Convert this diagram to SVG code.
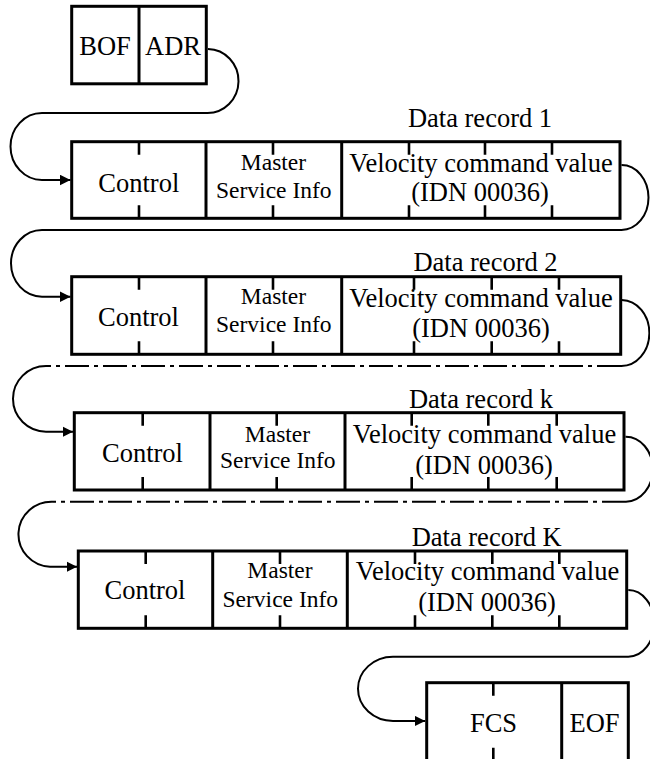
<svg xmlns="http://www.w3.org/2000/svg" width="650" height="759" viewBox="0 0 650 759">
  <style>
    .box { fill: #fff; stroke: #000; stroke-width: 3; }
    .sep { stroke: #000; stroke-width: 3; }
    .tick { stroke: #000; stroke-width: 2.6; }
    .wire { fill: none; stroke: #000; stroke-width: 2; }
    .dashdot { stroke-dasharray: 24 5 4 5; }
    .lbl { font-family: 'Liberation Serif', 'Times New Roman', serif; font-size: 26.5px; text-anchor: middle; fill: #000; }
    .small { font-size: 23.5px; }
  </style>
  <defs>
    <marker id="arrow" markerUnits="userSpaceOnUse" markerWidth="11" markerHeight="11" refX="10.5" refY="5.25" orient="auto">
      <path d="M0,0 L10.5,5.25 L0,10.5 z" fill="#000"/>
    </marker>
  </defs>
  <rect width="650" height="759" fill="#fff"/>

  <g class="lbl">
  <!-- frame start: BOF | ADR -->
  <g id="frame-start">
    <rect class="box" x="71.7" y="6.3" width="134.6" height="77.5"/>
    <line class="sep" x1="139" y1="6.3" x2="139" y2="83.8"/>
    <text x="105" y="55">BOF</text>
    <text x="173" y="55">ADR</text>
  </g>

  <!-- data record 1 -->
  <g id="record-1">
    <text x="480" y="126.7">Data record 1</text>
    <rect class="box" x="71.7" y="141.7" width="548.3" height="76.6"/>
    <line class="sep" x1="206" y1="141.7" x2="206" y2="218.3"/>
    <line class="sep" x1="341.7" y1="141.7" x2="341.7" y2="218.3"/>
    <path class="tick" d="M139,141.7v13M273,141.7v13M409,141.7v13M485,141.7v13M552,141.7v13M139,218.3v-13M273,218.3v-13M409,218.3v-13M485,218.3v-13M552,218.3v-13"/>
    <text x="138.8" y="191.7">Control</text>
    <text class="small" x="273.5" y="170">Master</text>
    <text class="small" x="273.8" y="198.3">Service Info</text>
    <text x="481" y="171.7">Velocity command value</text>
    <text x="480" y="200.5">(IDN 00036)</text>
  </g>

  <!-- data record 2 -->
  <g id="record-2">
    <text x="485.5" y="270.7">Data record 2</text>
    <rect class="box" x="71.7" y="276.7" width="549" height="77.6"/>
    <line class="sep" x1="206" y1="276.7" x2="206" y2="354.3"/>
    <line class="sep" x1="341.7" y1="276.7" x2="341.7" y2="354.3"/>
    <path class="tick" d="M139,276.7v13M273,276.7v13M414,276.7v13M491.7,276.7v13M559,276.7v13M139,354.3v-13M273,354.3v-13M414,354.3v-13M491.7,354.3v-13M559,354.3v-13"/>
    <text x="138.5" y="326">Control</text>
    <text class="small" x="273.5" y="304">Master</text>
    <text class="small" x="273.8" y="331.7">Service Info</text>
    <text x="481" y="306.7">Velocity command value</text>
    <text x="481" y="337">(IDN 00036)</text>
  </g>

  <!-- data record k -->
  <g id="record-k">
    <text x="481" y="408.3">Data record k</text>
    <rect class="box" x="74.3" y="412.7" width="549.7" height="77.3"/>
    <line class="sep" x1="210" y1="412.7" x2="210" y2="490"/>
    <line class="sep" x1="345" y1="412.7" x2="345" y2="490"/>
    <path class="tick" d="M142.7,412.7v13M276.7,412.7v13M411.7,412.7v13M488.3,412.7v13M556.7,412.7v13M142.7,490v-13M276.7,490v-13M411.7,490v-13M488.3,490v-13M556.7,490v-13"/>
    <text x="142.5" y="461.7">Control</text>
    <text class="small" x="277.5" y="441.7">Master</text>
    <text class="small" x="277.8" y="468.3">Service Info</text>
    <text x="484.5" y="443.3">Velocity command value</text>
    <text x="484" y="474">(IDN 00036)</text>
  </g>

  <!-- data record K -->
  <g id="record-K">
    <text x="486.7" y="545.7">Data record K</text>
    <rect class="box" x="78.3" y="551" width="548.4" height="77.3"/>
    <line class="sep" x1="212.7" y1="551" x2="212.7" y2="628.3"/>
    <line class="sep" x1="347.3" y1="551" x2="347.3" y2="628.3"/>
    <path class="tick" d="M145.7,551v13M280,551v13M415,551v13M492.3,551v13M559.3,551v13M145.7,628.3v-13M280,628.3v-13M415,628.3v-13M492.3,628.3v-13M559.3,628.3v-13"/>
    <text x="145" y="599">Control</text>
    <text class="small" x="280" y="578.3">Master</text>
    <text class="small" x="280.3" y="606.7">Service Info</text>
    <text x="487.5" y="580">Velocity command value</text>
    <text x="487" y="610.5">(IDN 00036)</text>
  </g>

  <!-- frame end: FCS | EOF -->
  <g id="frame-end">
    <rect class="box" x="426.7" y="682.7" width="201.6" height="78"/>
    <line class="sep" x1="561.7" y1="682.7" x2="561.7" y2="760.7"/>
    <path class="tick" d="M493.3,682.7v13M493.3,760.7v-13"/>
    <text x="493.5" y="731.7">FCS</text>
    <text x="594.5" y="731.7">EOF</text>
  </g>
  </g>

  <!-- connectors -->
  <g id="connectors">
    <path class="wire" d="M208,49 A31,32 0 0 1 207,113 L42,113 A31.5,33.5 0 0 0 42,180 L70.5,180" marker-end="url(#arrow)"/>
    <path class="wire" d="M621.5,165 A27,32.5 0 0 1 621.5,230 L42,230 A31,33.35 0 0 0 42,296.7 L70.5,296.7" marker-end="url(#arrow)"/>
    <g>
      <path class="wire" d="M621.7,300 A28,33 0 0 1 621,366"/>
      <path class="wire dashdot" d="M621,366 L46,366"/>
      <path class="wire" d="M46,366 A33,32.85 0 0 0 46,431.7 L73,431.7" marker-end="url(#arrow)"/>
    </g>
    <g>
      <path class="wire" d="M625.5,436.7 A27,32.5 0 0 1 626,501.7"/>
      <path class="wire dashdot" d="M626,501.7 L53,501.7"/>
      <path class="wire" d="M53,501.7 A33,32.5 0 0 0 50,566.7 L77,566.7" marker-end="url(#arrow)"/>
    </g>
    <path class="wire" d="M628.3,590 A26,33.35 0 0 1 628.3,656.7 L393,656.7 A35,32.15 0 0 0 393,721 L425.2,721" marker-end="url(#arrow)"/>
  </g>
</svg>
